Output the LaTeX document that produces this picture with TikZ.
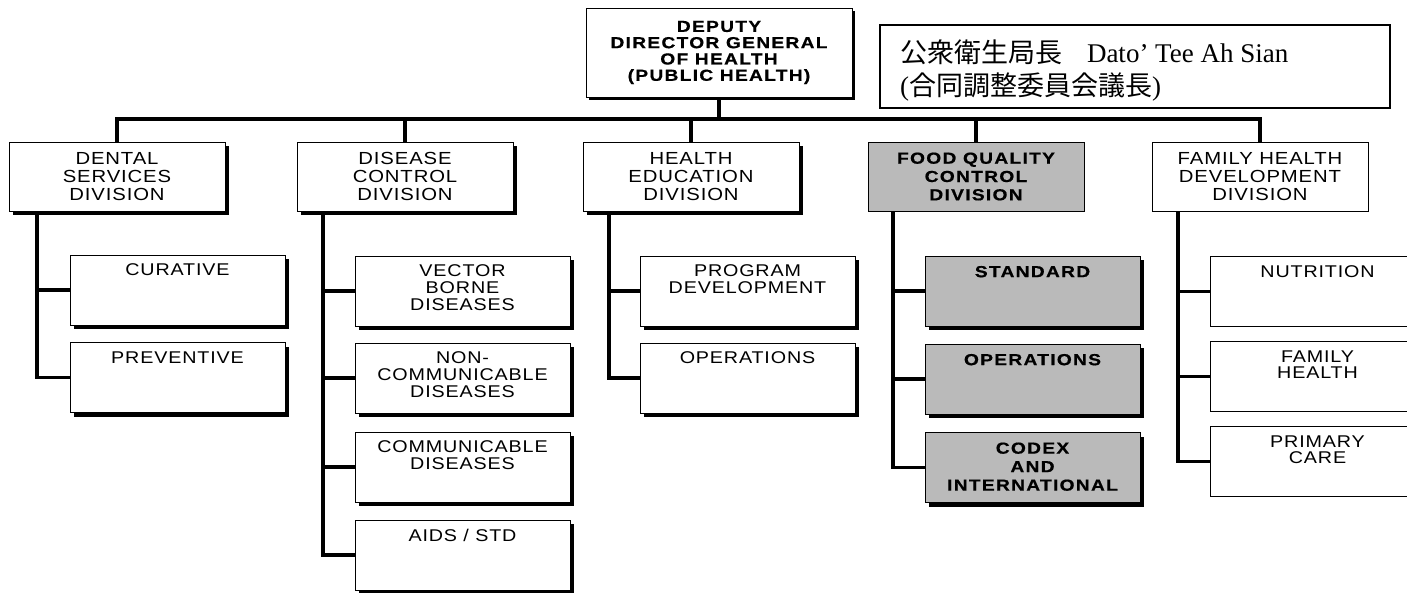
\documentclass[tikz,border=0pt]{standalone}
\usepackage{fontspec}
\usetikzlibrary{shadows,backgrounds}
\newfontfamily\regf{Liberation Sans}[FakeStretch=1.16,LetterSpace=5]
\newfontfamily\boldf{Liberation Sans}[FakeStretch=1.2,LetterSpace=8,FakeBold=0.6]
\newfontfamily\cjk{Noto Sans CJK JP}
\newfontfamily\serf{Liberation Serif}
\newcommand{\subtxt}[2][9pt]{\parbox[c][70pt][t]{215pt}{\centering\vspace*{#1}#2\par}}
\begin{document}
\begin{tikzpicture}[x=1pt,y=-1pt,
  conn/.style={line width=3.2pt},
  shad/.style={drop shadow={shadow xshift=4pt,shadow yshift=-4pt,fill=black,opacity=1}},
  thinshad/.style={drop shadow={shadow xshift=3pt,shadow yshift=-3pt,fill=black,opacity=1}},
  foodfill/.style={fill=black!27},
  regtext/.style={font=\regf\fontsize{17.5pt}{18.3pt}\selectfont},
  boldtext/.style={font=\boldf\bfseries\fontsize{16pt}{18.3pt}\selectfont},
  topbox/.style={draw,line width=0.8pt,fill=white,minimum width=266pt,minimum height=89pt,
    align=center,inner sep=0pt,font=\boldf\bfseries\fontsize{16pt}{16.3pt}\selectfont},
  divbox/.style={draw,line width=0.8pt,fill=white,minimum width=216pt,minimum height=69pt,
    align=center,inner sep=0pt,regtext},
  subbox/.style={draw,line width=0.8pt,fill=white,inner sep=0pt,
    font=\regf\fontsize{17pt}{16.7pt}\selectfont},
  boldsub/.style={font=\boldf\bfseries\fontsize{16pt}{18.5pt}\selectfont},
  cjkbox/.style={draw,line width=1.1pt,fill=white,inner xsep=20pt,inner ysep=0pt,
    font=\fontsize{27pt}{33pt}\selectfont}]
\useasboundingbox (0,0) rectangle (1407,592);
\clip (0,0) rectangle (1407,592);
\begin{scope}[on background layer]
  \fill[white] (0,0) rectangle (1407,592);
\end{scope}

% top
\node[topbox,thinshad] (dg) at (719,52.5) {DEPUTY\\DIRECTOR GENERAL\\OF HEALTH\\(PUBLIC HEALTH)};
\node[cjkbox] (chair) at (1135,66.5) {\parbox[c][83pt][t]{470pt}{\raggedright\vspace*{15pt}{\cjk 公衆衛生局長}\hspace{25pt}{\serf Dato’ Tee Ah Sian}\\{\serf (}{\cjk 合同調整委員会議長}{\serf )}\par}};

% divisions
\node[divbox,shad] (dental) at (117,176.5) {DENTAL\\SERVICES\\DIVISION};
\node[divbox,shad] (disease) at (405,176.5) {DISEASE\\CONTROL\\DIVISION};
\node[divbox,shad] (healthed) at (691,176.5) {HEALTH\\EDUCATION\\DIVISION};
\node[divbox,foodfill,boldtext] (food) at (976,176.5) {FOOD QUALITY\\CONTROL\\DIVISION};
\node[divbox] (family) at (1260,176.5) {FAMILY HEALTH\\DEVELOPMENT\\DIVISION};

% dental subs
\node[subbox,shad] (curative) at (177.5,290) {\subtxt{CURATIVE}};
\node[subbox,shad] (preventive) at (177.5,377.5) {\subtxt{PREVENTIVE}};
% disease subs
\node[subbox,shad] (vector) at (462.5,291) {\subtxt{VECTOR\\BORNE\\DISEASES}};
\node[subbox,shad] (noncomm) at (462.5,378) {\subtxt{NON-\\COMMUNICABLE\\DISEASES}};
\node[subbox,shad] (comm) at (462.5,467) {\subtxt{COMMUNICABLE\\DISEASES}};
\node[subbox,shad] (aids) at (462.5,555) {\subtxt{AIDS / STD}};
% health education subs
\node[subbox,shad] (progdev) at (747.5,291) {\subtxt{PROGRAM\\DEVELOPMENT}};
\node[subbox,shad] (heops) at (747.5,378) {\subtxt{OPERATIONS}};
% food subs
\node[subbox,shad,foodfill,boldsub] (standard) at (1032.5,291) {\subtxt[10pt]{STANDARD}};
\node[subbox,shad,foodfill,boldsub] (fops) at (1032.5,379) {\subtxt[10pt]{OPERATIONS}};
\node[subbox,shad,foodfill,boldsub] (codex) at (1032.5,467.5) {\subtxt[10pt]{CODEX\\AND\\INTERNATIONAL}};
% family subs
\node[subbox] (nutrition) at (1317.5,291.5) {\subtxt{NUTRITION}};
\node[subbox] (famhealth) at (1317.5,376.5) {\subtxt{FAMILY\\HEALTH}};
\node[subbox] (primary) at (1317.5,461.5) {\subtxt{PRIMARY\\CARE}};

\coordinate (bar) at (0,119);
\coordinate (t1) at (37,0);
\coordinate (t2) at (323,0);
\coordinate (t3) at (609,0);
\coordinate (t4) at (893,0);
\coordinate (t5) at (1178,0);

\begin{scope}[on background layer]
  \draw[conn] (dg.south) -- (dg.south |- bar);
  \draw[conn] (dental.north) -- (dental.north |- bar) -- (family.north |- bar) -- (family.north);
  \foreach \n in {disease,healthed,food} \draw[conn] (\n.north) -- (\n.north |- bar);
  % dental
  \draw[conn] (dental.south -| t1) |- (preventive.west);
  \draw[conn] (curative.west -| t1) -- (curative.west);
  % disease
  \draw[conn] (disease.south -| t2) |- (aids.west);
  \foreach \n in {vector,noncomm,comm} \draw[conn] (\n.west -| t2) -- (\n.west);
  % health education
  \draw[conn] (healthed.south -| t3) |- (heops.west);
  \draw[conn] (progdev.west -| t3) -- (progdev.west);
  % food
  \draw[conn] (food.south -| t4) |- (codex.west);
  \foreach \n in {standard,fops} \draw[conn] (\n.west -| t4) -- (\n.west);
  % family
  \draw[conn] (family.south -| t5) |- (primary.west);
  \foreach \n in {nutrition,famhealth} \draw[conn] (\n.west -| t5) -- (\n.west);
\end{scope}
\end{tikzpicture}
\end{document}
